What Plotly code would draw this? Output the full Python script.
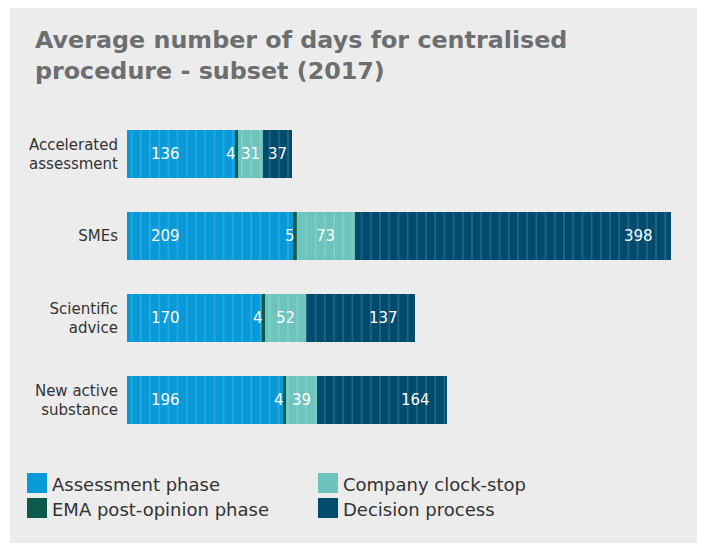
import plotly.graph_objects as go

categories = ["Accelerated<br>assessment", "SMEs", "Scientific<br>advice", "New active<br>substance"]
assessment = [136, 209, 170, 196]
ema_post = [4, 5, 4, 4]
clock_stop = [31, 73, 52, 39]
decision = [37, 398, 137, 164]

phases = ["Assessment phase", "EMA post-opinion phase", "Company clock-stop", "Decision process"]
colors = ["#089ad8", "#0b5a4b", "#6cc4bc", "#004b6e"]

# page body has an 8px margin, so the figure is a bit smaller than the window
OFF = 8
W, H = 705 - OFF, 545 - OFF
ML, MR, MT, MB = 127 - OFF, 20, 113 - OFF, 112 - OFF
PW, PH = W - ML - MR, H - MT - MB
XMAX = PW / 0.7935


def px2x(px):
    return (px - OFF - ML) / PW


def px2y(py):
    return (H - MB - (py - OFF)) / PH


fig = go.Figure()
for name, vals, col in zip(phases, [assessment, ema_post, clock_stop, decision], colors):
    fig.add_trace(go.Bar(
        y=categories, x=vals, name=name, orientation="h",
        marker=dict(color=col, line=dict(width=0),
                    pattern=dict(shape="|", size=9.2, solidity=0.12,
                                 fgcolor="white", fgopacity=0.22, fillmode="overlay")),
        showlegend=False, hoverinfo="x+name",
    ))

lab_font = dict(family="DejaVu Sans", size=15, color="white")
for i, cat in enumerate(categories):
    a, e, c, d = assessment[i], ema_post[i], clock_stop[i], decision[i]
    total = a + e + c + d
    fig.add_annotation(x=min(a / 2, 48), y=cat, text=str(a), showarrow=False, font=lab_font)
    fig.add_annotation(x=a + e, y=cat, text=str(e), showarrow=False, xanchor="right", font=lab_font)
    fig.add_annotation(x=a + e + c / 2, y=cat, text=str(c), showarrow=False, font=lab_font)
    fig.add_annotation(x=max(total - d / 2, total - 40), y=cat, text=str(d), showarrow=False, font=lab_font)

# background panel
fig.add_shape(type="rect", xref="paper", yref="paper",
              x0=px2x(10), x1=px2x(703), y0=px2y(543), y1=px2y(8),
              fillcolor="#ececec", line=dict(width=0), layer="below")

# legend (two columns)
leg_items = [("Assessment phase", colors[0], 27, 483), ("Company clock-stop", colors[2], 318, 483),
             ("EMA post-opinion phase", colors[1], 27, 508), ("Decision process", colors[3], 318, 508)]
for name, col, lx, ly in leg_items:
    fig.add_shape(type="rect", xref="paper", yref="paper",
                  x0=px2x(lx), x1=px2x(lx + 20), y0=px2y(ly + 10), y1=px2y(ly - 10),
                  fillcolor=col, line=dict(width=0))
    fig.add_annotation(xref="paper", yref="paper", x=px2x(lx + 23), y=px2y(ly + 1),
                       text=name, showarrow=False, xanchor="left", yanchor="middle",
                       font=dict(family="DejaVu Sans", size=18, color="#333333"))

# title as a paper annotation so its position is exact
fig.add_annotation(xref="paper", yref="paper", x=px2x(33), y=px2y(56),
                   text="Average number of days for centralised<br>procedure - subset (2017)",
                   showarrow=False, xanchor="left", yanchor="middle", align="left",
                   font=dict(family="DejaVu Sans", size=23.8, color="#6d6e70", weight="bold"))

fig.update_layout(
    width=W, height=H,
    barmode="stack", bargap=0.41,
    paper_bgcolor="white", plot_bgcolor="rgba(0,0,0,0)",
    margin=dict(l=ML, r=MR, t=MT, b=MB),
    xaxis=dict(range=[0, XMAX], visible=False, fixedrange=True),
    yaxis=dict(autorange="reversed", showgrid=False, zeroline=False, showline=False, ticks="",
               ticklabelstandoff=8,
               tickfont=dict(family="DejaVu Sans", size=15, color="#333333")),
    showlegend=False,
)

fig.write_html("out.html")
